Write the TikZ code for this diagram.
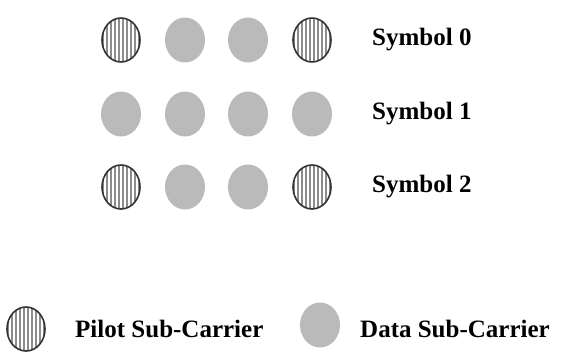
\documentclass[tikz,border=0pt]{standalone}
\usepackage{fontspec}
\setmainfont{Liberation Serif}
\usetikzlibrary{shapes.geometric}
\tikzset{
  pilot/.style={ellipse, draw=black!80, line width=1.6pt, minimum width=38pt,
    minimum height=44pt, inner sep=0pt,
    path picture={\foreach \i in {-18,-14,...,18}
      \draw[black!45, line width=1.3pt] ([xshift=\i pt]path picture bounding box.south)
      -- ([xshift=\i pt]path picture bounding box.north);}},
  data/.style={ellipse, fill=black!27, minimum width=40pt, minimum height=45pt,
    inner sep=0pt},
  lbl/.style={anchor=west, inner sep=0pt, font=\bfseries\fontsize{25}{29}\selectfont}
}
\begin{document}
\begin{tikzpicture}[x=1pt, y=-1pt]
    \useasboundingbox (0,0) rectangle (561,353);
    \node (a0) at (121,40) [pilot] {}; \node (b0) at (185,40) [data] {};
    \node (c0) at (248,40) [data] {}; \node (d0) at (312,40) [pilot] {};
    \node (s0) at (372,40) [lbl] {Symbol 0};
    \node (a1) at (121,114) [data] {}; \node (b1) at (185,114) [data] {};
    \node (c1) at (248,114) [data] {}; \node (d1) at (312,114) [data] {};
    \node (s1) at (372,114) [lbl] {Symbol 1};
    \node (a2) at (121,187) [pilot] {}; \node (b2) at (185,187) [data] {};
    \node (c2) at (248,187) [data] {}; \node (d2) at (312,187) [pilot] {};
    \node (s2) at (372,187) [lbl] {Symbol 2};
    % legend
    \node (p) at (26,329) [pilot] {}; \node (pl) at (75,329) [lbl] {Pilot Sub-Carrier};
    \node (d) at (320,325) [data] {}; \node (dl) at (360,329) [lbl] {Data Sub-Carrier};
  \end{tikzpicture}
\end{document}
